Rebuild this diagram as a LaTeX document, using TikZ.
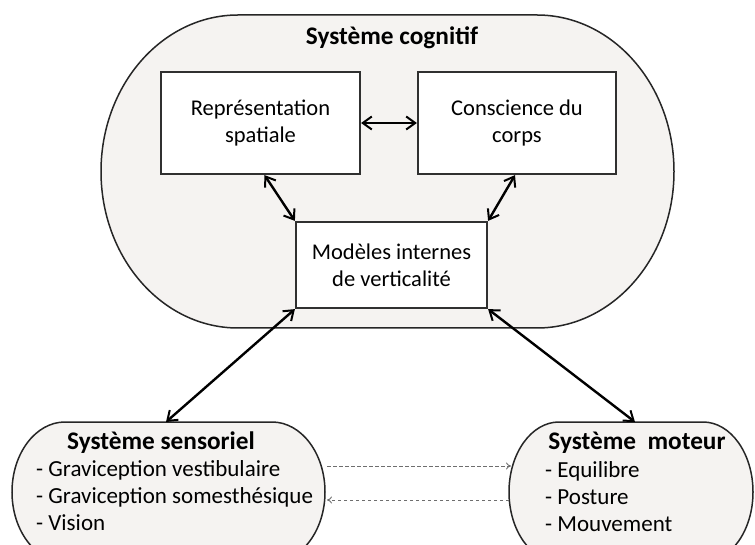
\documentclass[tikz,border=0pt]{standalone}
\usepackage{fontspec}
\setmainfont{Carlito}
\usetikzlibrary{arrows.meta,calc}
\definecolor{shapefill}{HTML}{F5F3F1}
\definecolor{boxline}{HTML}{303030}
\definecolor{dashgrey}{HTML}{6E6E6E}
\begin{document}
\begin{tikzpicture}[x=1pt,y=-1pt,
  boxnode/.style={draw=boxline,line width=2.2pt,fill=white,align=center,inner sep=0pt,
    font=\fontsize{22.5}{27}\selectfont},
  region/.style={draw=black!85,line width=1.5pt,fill=shapefill},
  bigarrow/.style={line width=2.4pt,{Straight Barb[length=9pt,width=13pt,line width=2pt]}-{Straight Barb[length=9pt,width=13pt,line width=2pt]}},
  dasharrow/.style={draw=dashgrey,line width=0.9pt,dash pattern=on 3.5pt off 2.5pt,-{To[length=5pt,width=7pt]}},
  titletext/.style={font=\fontsize{25.3}{29}\selectfont\bfseries,inner sep=0pt},
  listtext/.style={font=\fontsize{23}{27}\selectfont,align=left,inner sep=0pt,anchor=north west}]
\useasboundingbox (0,0) rectangle (755,545);
\clip (0,0) rectangle (755,545);
% cognitive region
\draw[region] (238,15) -- (537,15) arc[start angle=-90,end angle=90,x radius=137,y radius=156.5]
  -- (238,328) arc[start angle=90,end angle=270,x radius=137,y radius=156.5] -- cycle;
% sensory region
\draw[region] (65,422) -- (272,422) arc[start angle=-90,end angle=90,x radius=53,y radius=70]
  -- (65,562) arc[start angle=90,end angle=270,x radius=53,y radius=70] -- cycle;
% motor region
\draw[region] (559,422) -- (703,422) arc[start angle=-90,end angle=90,x radius=50,y radius=70]
  -- (559,562) arc[start angle=90,end angle=270,x radius=50,y radius=70] -- cycle;

\node[titletext] (cog) at (392,38) {Système cognitif};
\node[boxnode,minimum width=199pt,minimum height=102pt] (rep) at (260.5,123) {Représentation\\spatiale};
\node[boxnode,minimum width=198pt,minimum height=102pt] (cons) at (517,123) {Conscience du\\corps};
\node[boxnode,minimum width=191pt,minimum height=86pt] (mod) at (391.5,265) {Modèles internes\\de verticalité};

\node[titletext] (senst) at (161,443) {Système sensoriel};
\node[listtext] (sensl) at (36,460) {- Graviception vestibulaire\\- Graviception somesthésique\\- Vision};
\node[titletext] (mott) at (637,443) {Système\ \ moteur};
\node[listtext] (motl) at (545,461) {- Equilibre\\- Posture\\- Mouvement};

\coordinate (senstop) at (166,422);
\coordinate (mottop) at (635,422);
\coordinate (sr1) at (327,466);
\coordinate (ml1) at (511,466);
\coordinate (sr2) at (327,500);
\coordinate (ml2) at (509,500);

\draw[bigarrow] (rep.east) -- (cons.west);
\draw[bigarrow] ($(rep.south)+(4,0)$) -- (mod.north west);
\draw[bigarrow] ($(cons.south)+(-2,0)$) -- (mod.north east);
\draw[bigarrow] (mod.south west) -- (senstop);
\draw[bigarrow] (mod.south east) -- (mottop);
\draw[dasharrow] (sr1) -- (ml1);
\draw[dasharrow] (ml2) -- (sr2);
\end{tikzpicture}
\end{document}
